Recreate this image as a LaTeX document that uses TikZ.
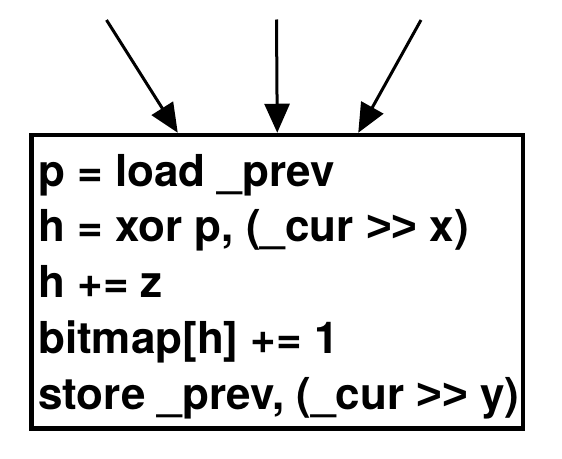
\documentclass[tikz,border=0pt]{standalone}
\usepackage{fontspec}
\setmainfont{TeX Gyre Heros}
\newfontfamily\gtfont{Liberation Sans}
\newcommand{\shr}{{\gtfont\bfseries >{}>}}
\usetikzlibrary{arrows.meta}
\tikzset{
  codebox/.style={draw=black, line width=4.5pt, minimum width=491.5pt, minimum height=293.5pt, inner sep=0pt},
  codeline/.style={anchor=base west, inner sep=0pt, font=\fontsize{44}{50}\selectfont\bfseries},
  arr/.style={line width=3pt, -{Triangle[length=29pt, width=25pt]}}
}
\begin{document}
\begin{tikzpicture}[x=1pt, y=-1pt]
\useasboundingbox[fill=white] (0,0) rectangle (562,458);
\node[codebox] (box) at (277.25,281.75) {};
\node[codeline] (l1) at (38,186) {p = load \_prev};
\node[codeline] (l2) at (38,241) {h = xor p, (\_cur \shr{} x)};
\node[codeline] (l3) at (38,297) {h += z};
\node[codeline] (l4) at (38,353) {bitmap[h] += 1};
\node[codeline] (l5) at (38,409) {store \_prev, (\_cur \shr{} y)};
\coordinate (s1) at (106.5,20);
\coordinate (s2) at (276.5,19.5);
\coordinate (s3) at (421,20);
\draw[arr] (s1) -- ([xshift=148.5pt]box.north west);
\draw[arr] (s2) -- ([xshift=248pt]box.north west);
\draw[arr] (s3) -- ([xshift=329pt]box.north west);
\end{tikzpicture}
\end{document}
